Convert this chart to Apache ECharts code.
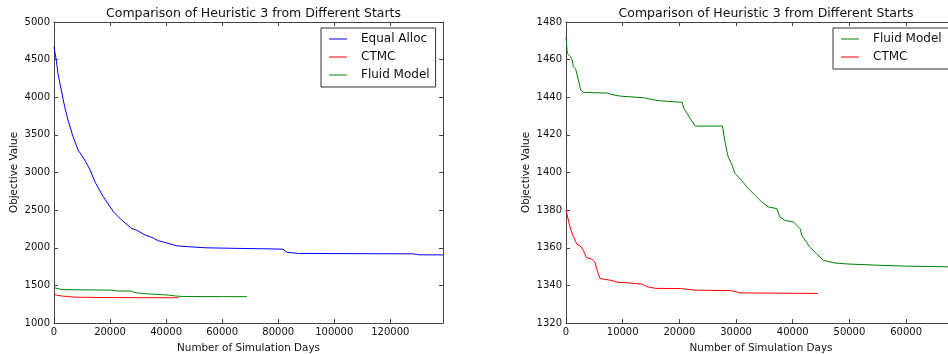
<!DOCTYPE html>
<html>
<head>
<meta charset="utf-8">
<script src="https://cdn.jsdelivr.net/npm/echarts@6/dist/echarts.min.js"></script>
<style>
  html, body { margin: 0; padding: 0; background: #fff; }
  #chart { width: 948px; height: 354px; }
</style>
</head>
<body>
<div id="chart"></div>
<script>
// Best objective value found so far vs. simulation days, per starting point.
const chartTitle = 'Comparison of Heuristic 3 from Different Starts';
const xName = 'Number of Simulation Days';
const yName = 'Objective Value';

const equalAllocDays = [0, 800, 1400, 2600, 3800, 5000, 6800, 8600, 11000, 12900, 14600, 17600, 21200, 24200, 27700, 29500, 32500, 34900, 37300, 40200, 43800, 48600, 54500, 66400, 77100, 81700, 83100, 87300, 128300, 130100, 138800];
const equalAllocValues = [4672, 4495, 4318, 4096, 3874, 3697, 3475, 3298, 3165, 3032, 2876, 2677, 2477, 2367, 2256, 2234, 2168, 2137, 2092, 2065, 2025, 2012, 1999, 1991, 1985, 1981, 1941, 1924, 1919, 1906, 1905];

const ctmcDays = [0, 700, 1300, 1900, 2700, 3200, 3600, 4600, 5100, 5400, 5700, 6000, 7900, 9200, 10800, 13500, 14300, 15800, 20200, 22600, 29200, 30700, 44400];
const ctmcValues = [1380, 1371, 1366, 1362, 1360.4, 1357.7, 1354.8, 1353.9, 1352.4, 1348.9, 1346.2, 1343.6, 1342.7, 1341.6, 1341.4, 1340.6, 1339.3, 1338.4, 1338.3, 1337.5, 1337.2, 1336, 1335.7];

const fluidDays = [0, 230, 800, 1100, 1300, 1700, 2000, 2200, 2600, 3100, 7300, 7900, 9600, 13800, 15500, 16700, 20500, 20800, 21400, 21900, 22800, 27600, 28000, 28600, 29200, 29800, 30700, 31900, 33300, 34500, 35700, 37200, 37700, 38600, 40100, 41300, 41600, 43000, 44200, 45400, 47400, 49500, 54200, 60100, 68800];
const fluidValues = [1472, 1463.3, 1461.5, 1459.8, 1456.2, 1455, 1454.5, 1449.1, 1443.8, 1442.6, 1442.2, 1441.5, 1440.6, 1439.7, 1438.6, 1438.1, 1437.3, 1434, 1431.4, 1428.7, 1424.7, 1424.7, 1417.2, 1408.3, 1404.8, 1399.5, 1396.8, 1392.3, 1388, 1384.4, 1381.7, 1380.8, 1376.4, 1374.6, 1373.7, 1370.2, 1366.6, 1360.4, 1356.9, 1353.3, 1351.9, 1351.4, 1350.8, 1350.2, 1349.8];

// Axis ranges
const leftX = { min: 0, max: 138800, interval: 20000 };
const leftY = { min: 1000, max: 5000, interval: 500 };
const rightX = { min: 0, max: 68800, interval: 10000 };
const rightY = { min: 1320, max: 1480, interval: 20 };

const COLORS = { equal: '#0000ff', ctmc: '#ff0000', fluid: '#008000' };
const FONT = 'DejaVu Sans';
const TEXT = '#111';
const FRAME = '#444';

const zip = (xs, ys) => xs.map((x, i) => [x, ys[i]]);

function frameAxis(pos, grid, range, withLabels, name, nameGap) {
  const ax = {
    type: 'value', gridIndex: grid, position: pos,
    min: range.min, max: range.max, interval: range.interval,
    axisLine: { show: true, onZero: false, lineStyle: { color: FRAME, width: 1 } },
    axisTick: { show: true, inside: true, length: 4, lineStyle: { color: FRAME } },
    splitLine: { show: false },
    axisLabel: {
      show: withLabels, color: TEXT, fontFamily: FONT, fontSize: 10, margin: 4,
      formatter: v => (v % range.interval === 0 ? String(v) : '')
    }
  };
  if (name) {
    Object.assign(ax, {
      name, nameLocation: 'middle', nameGap,
      nameTextStyle: { color: TEXT, fontFamily: FONT, fontSize: 10.4 }
    });
  }
  return ax;
}

function lineSeries(name, color, xAxisIndex, yAxisIndex, data, z) {
  return {
    name, type: 'line', xAxisIndex, yAxisIndex, data, z,
    symbol: 'none', showSymbol: false, silent: true,
    lineStyle: { color, width: 1 }, itemStyle: { color },
    emphasis: { disabled: true }
  };
}

// Legend keys are drawn as short horizontal strokes
const legendBase = {
  orient: 'vertical', backgroundColor: '#fff',
  borderColor: '#333', borderWidth: 1, borderRadius: 0,
  padding: [4, 6, 5, 8], icon: 'rect', itemWidth: 18, itemHeight: 1, itemGap: 4,
  textStyle: { color: TEXT, fontFamily: FONT, fontSize: 12, lineHeight: 14, padding: [0, 0, 0, 9] },
  selectedMode: false
};

const chart = echarts.init(document.getElementById('chart'), null, { renderer: 'canvas' });
chart.setOption({
  animation: false,
  backgroundColor: '#fff',
  title: [
    { text: chartTitle, left: 248.5, top: 2, textAlign: 'center',
      textStyle: { color: TEXT, fontFamily: FONT, fontSize: 12.5, fontWeight: 'normal' } },
    { text: chartTitle, left: 761, top: 2, textAlign: 'center',
      textStyle: { color: TEXT, fontFamily: FONT, fontSize: 12.5, fontWeight: 'normal' } }
  ],
  legend: [
    Object.assign({}, legendBase, { left: 321, top: 28, data: ['Equal Alloc', 'CTMC', 'Fluid Model'] }),
    Object.assign({}, legendBase, { left: 833, top: 28, padding: [4, 12, 5, 8], data: ['Fluid Model', 'CTMC'] })
  ],
  grid: [
    { left: 54, top: 22, width: 389, height: 301, containLabel: false, outerBoundsMode: 'none' },
    { left: 566, top: 22, width: 390, height: 301, containLabel: false, outerBoundsMode: 'none' }
  ],
  xAxis: [
    frameAxis('bottom', 0, leftX, true, xName, 20),
    frameAxis('top', 0, leftX, false),
    frameAxis('bottom', 1, rightX, true, xName, 20),
    frameAxis('top', 1, rightX, false)
  ],
  yAxis: [
    frameAxis('left', 0, leftY, true, yName, 35),
    frameAxis('right', 0, leftY, false),
    frameAxis('left', 1, rightY, true, yName, 35),
    frameAxis('right', 1, rightY, false)
  ],
  series: [
    lineSeries('Equal Alloc', COLORS.equal, 0, 0, zip(equalAllocDays, equalAllocValues), 2),
    lineSeries('CTMC', COLORS.ctmc, 0, 0, zip(ctmcDays, ctmcValues), 3),
    lineSeries('Fluid Model', COLORS.fluid, 0, 0, zip(fluidDays, fluidValues), 4),
    lineSeries('Fluid Model', COLORS.fluid, 2, 2, zip(fluidDays, fluidValues), 2),
    lineSeries('CTMC', COLORS.ctmc, 2, 2, zip(ctmcDays, ctmcValues), 3)
  ]
});
</script>
</body>
</html>
